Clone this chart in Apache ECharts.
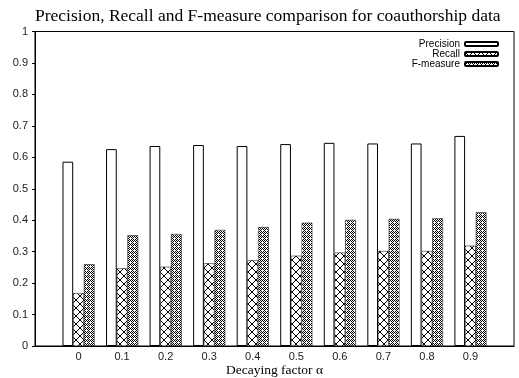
<!DOCTYPE html>
<html><head><meta charset="utf-8">
<script src="https://cdn.jsdelivr.net/npm/echarts@6/dist/echarts.min.js"></script>
<style>html,body{margin:0;padding:0;background:#fff}#c{width:519px;height:378px}</style>
</head><body><div id="c"></div>
<script>
var categories = ['0','0.1','0.2','0.3','0.4','0.5','0.6','0.7','0.8','0.9'];
var precision = [0.586,0.626,0.636,0.639,0.636,0.642,0.646,0.644,0.644,0.668];
var recall    = [0.168,0.247,0.252,0.263,0.273,0.287,0.297,0.302,0.302,0.319];
var fmeasure  = [0.260,0.352,0.356,0.369,0.378,0.392,0.401,0.404,0.406,0.425];
var yTicks = [0,0.1,0.2,0.3,0.4,0.5,0.6,0.7,0.8,0.9,1];

function makePattern(draw, w, h){
  var c = document.createElement('canvas'); c.width = w; c.height = h;
  var g = c.getContext('2d'); g.fillStyle = '#fff'; g.fillRect(0,0,w,h);
  g.fillStyle = '#000'; draw(g); return c;
}
// crosshatch (X) pattern
var recallPat = makePattern(function(g){
  for (var i=0;i<8;i++){ g.fillRect(i,i,1,1); g.fillRect(7-i,i,1,1); }
}, 8, 8);
// fine checker/dot pattern
var fPat = makePattern(function(g){
  g.fillRect(0,0,1,1); g.fillRect(2,0,1,1); g.fillRect(1,1,1,1); g.fillRect(3,1,1,1);
  g.fillRect(0,2,1,1); g.fillRect(3,3,1,1); g.fillRect(1,3,1,1);
}, 4, 4);

function toXY(arr){ return arr.map(function(v,i){ return [i, v]; }); }

var chart = echarts.init(document.getElementById('c'), null, {renderer:'canvas'});
var barW = 10.7;
chart.setOption({
  animation: false,
  title: {
    text: 'Precision, Recall and F-measure comparison for coauthorship data',
    left: 35, top: 7, padding: 0,
    textStyle: {fontFamily: 'Liberation Serif', fontWeight: 'normal', fontSize: 17.5, color: '#000'}
  },
  legend: {
    orient: 'vertical', right: 20, top: 39, align: 'right', itemGap: 0,
    itemWidth: 33, itemHeight: 4, padding: 0,
    textStyle: {fontFamily: 'Liberation Sans', fontSize: 10, lineHeight: 10, color: '#000', padding: [0,0,0,0]},
    data: ['Precision','Recall','F-measure']
  },
  grid: {left: 35, right: 5, top: 31.5, bottom: 32, show: true, borderColor: '#000', borderWidth: 1,
         containLabel: false, outerBoundsMode: 'none'},
  xAxis: {
    type: 'value', min: -1, max: 10, interval: 1,
    name: 'Decaying factor α', nameLocation: 'middle', nameGap: 17, nameMoveOverlap: false,
    nameTextStyle: {fontFamily: 'Liberation Serif', fontSize: 13.5, color: '#000'},
    axisLine: {show: true, onZero: false, lineStyle: {color: '#000', width: 1}},
    axisTick: {show: false},
    splitLine: {show: false},
    axisLabel: {
      fontFamily: 'Liberation Sans', fontSize: 11, color: '#222', margin: 5,
      formatter: function(v){ return (v>=0 && v<categories.length) ? categories[v] : ''; }
    }
  },
  yAxis: {
    type: 'value', min: 0, max: 1, interval: 0.1,
    axisLine: {show: true, onZero: false, lineStyle: {color: '#000', width: 1}},
    axisTick: {show: true, length: 3, lineStyle: {color: '#000'}},
    splitLine: {show: false},
    axisLabel: {fontFamily: 'Liberation Sans', fontSize: 11, color: '#222', margin: 7,
      formatter: function(v){ return String(Math.round(v*10)/10); }}
  },
  series: [
    {name: 'Precision', type: 'bar', data: toXY(precision), barWidth: barW, barGap: '0%',
     itemStyle: {color: '#fff', borderColor: '#000', borderWidth: 1}},
    {name: 'Recall', type: 'bar', data: toXY(recall), barWidth: barW, barGap: '0%',
     itemStyle: {color: {image: recallPat, repeat: 'repeat'}, borderColor: '#000', borderWidth: 0.5}},
    {name: 'F-measure', type: 'bar', data: toXY(fmeasure), barWidth: barW, barGap: '0%',
     itemStyle: {color: {image: fPat, repeat: 'repeat'}, borderColor: '#000', borderWidth: 0.5}}
  ]
});
</script></body></html>
